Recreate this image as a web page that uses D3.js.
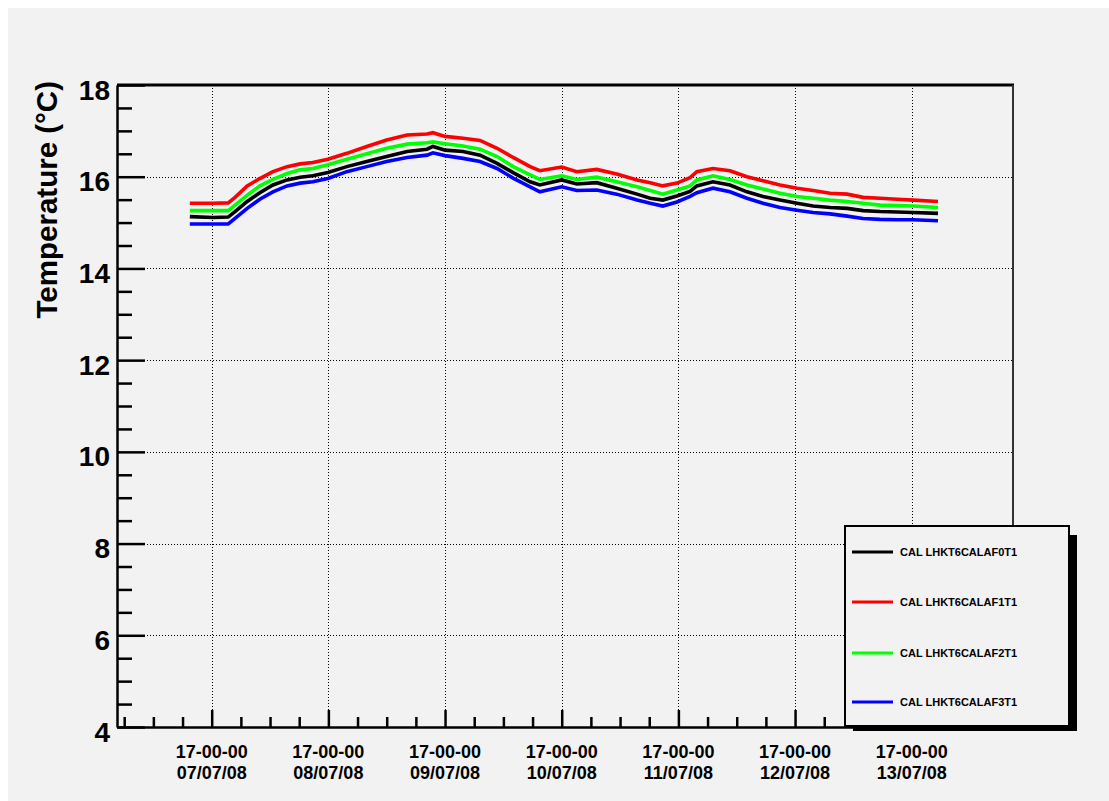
<!DOCTYPE html>
<html>
<head>
<meta charset="utf-8">
<script src="https://cdn.jsdelivr.net/npm/d3@7"></script>
<style>
  body { margin: 0; background: #fff; }
  text { font-family: "Liberation Sans", Arial, Helvetica, sans-serif; font-weight: bold; fill: #000; }
</style>
</head>
<body>
<svg id="chart" width="1109" height="801"></svg>
<script>
// sensor names and colours, as in the legend
var seriesNames = ['CAL LHKT6CALAF0T1', 'CAL LHKT6CALAF1T1', 'CAL LHKT6CALAF2T1', 'CAL LHKT6CALAF3T1'];
var seriesColors = ['#000000', '#ff0000', '#00ff00', '#0000ff'];

// sample times, hours after 07/07/08 17:00:00
var hours = [-4.5, 0.3, 3.4, 4.8, 7.3, 9.9, 12.6, 15.5, 18.2, 20.8, 23.9, 27.8, 31.9, 36.0, 40.2, 44.3,
  45.5, 48.0, 51.7, 55.2, 58.7, 62.0, 65.5, 67.5, 72.0, 75.1, 79.2, 83.3, 87.5, 90.2, 92.8, 95.7,
  98.4, 99.8, 103.1, 106.6, 110.1, 113.4, 116.9, 120.4, 123.7, 127.2, 130.7, 134.0, 137.5, 141.0, 144.3, 149.4];

// temperatures (degC)
var af0 = [15.13, 15.11, 15.12, 15.24, 15.46, 15.65, 15.82, 15.93, 15.99, 16.02, 16.09, 16.22, 16.33, 16.44, 16.55, 16.60,
  16.66, 16.58, 16.55, 16.47, 16.29, 16.09, 15.89, 15.82, 15.93, 15.84, 15.87, 15.75, 15.62, 15.53, 15.49, 15.58,
  15.68, 15.80, 15.89, 15.82, 15.67, 15.57, 15.49, 15.42, 15.36, 15.33, 15.31, 15.26, 15.24, 15.23, 15.22, 15.20];
var af1 = [15.42, 15.42, 15.43, 15.55, 15.80, 15.96, 16.11, 16.22, 16.28, 16.31, 16.38, 16.51, 16.66, 16.80, 16.91, 16.93,
  16.96, 16.88, 16.84, 16.79, 16.62, 16.42, 16.22, 16.13, 16.21, 16.11, 16.16, 16.06, 15.93, 15.87, 15.80, 15.86,
  15.98, 16.11, 16.18, 16.13, 16.00, 15.91, 15.82, 15.75, 15.70, 15.64, 15.62, 15.55, 15.53, 15.51, 15.49, 15.46];
var af2 = [15.26, 15.26, 15.26, 15.38, 15.60, 15.80, 15.94, 16.07, 16.15, 16.18, 16.26, 16.38, 16.50, 16.62, 16.71, 16.74,
  16.76, 16.72, 16.67, 16.60, 16.44, 16.22, 16.04, 15.94, 16.02, 15.94, 15.99, 15.89, 15.78, 15.70, 15.62, 15.71,
  15.80, 15.93, 16.02, 15.94, 15.82, 15.73, 15.64, 15.57, 15.53, 15.49, 15.46, 15.42, 15.38, 15.37, 15.36, 15.33];
var af3 = [14.97, 14.97, 14.97, 15.09, 15.31, 15.51, 15.67, 15.80, 15.86, 15.89, 15.96, 16.11, 16.22, 16.33, 16.42, 16.47,
  16.52, 16.46, 16.40, 16.33, 16.18, 15.97, 15.78, 15.67, 15.78, 15.70, 15.71, 15.62, 15.49, 15.42, 15.36, 15.45,
  15.57, 15.65, 15.75, 15.67, 15.53, 15.42, 15.33, 15.27, 15.22, 15.19, 15.14, 15.09, 15.07, 15.06, 15.06, 15.04];

var yMajor = [4, 6, 8, 10, 12, 14, 16, 18];
var dayTicks = [0, 24, 48, 72, 96, 120, 144];   // hours, one per day at 17:00

var base = Date.UTC(2008, 6, 7, 17, 0, 0);
var toDate = function(h) { return new Date(base + h * 3600e3); };

var margin = {left: 117, top: 85, right: 1013, bottom: 727};
var svg = d3.select('#chart');

// canvas
svg.append('rect').attr('x', 8).attr('y', 8).attr('width', 1101).attr('height', 793).attr('fill', '#f2f2f2');

var x = d3.scaleUtc()
    .domain([toDate(-19.48), toDate(164.83)])
    .range([margin.left, margin.right]);
var y = d3.scaleLinear()
    .domain([4, 18])
    .range([margin.bottom, margin.top]);

// dotted grid
var grid = svg.append('g')
    .attr('stroke', '#000')
    .attr('stroke-width', 1)
    .attr('stroke-dasharray', '1,2');
grid.selectAll('.gy')
    .data(yMajor.slice(1, -1))
    .join('line')
        .attr('x1', margin.left).attr('x2', margin.right)
        .attr('y1', function(d) { return Math.round(y(d)) + 0.5; })
        .attr('y2', function(d) { return Math.round(y(d)) + 0.5; });
grid.selectAll('.gx')
    .data(dayTicks)
    .join('line')
        .attr('y1', margin.top).attr('y2', margin.bottom)
        .attr('x1', function(d) { return Math.round(x(toDate(d))) + 0.5; })
        .attr('x2', function(d) { return Math.round(x(toDate(d))) + 0.5; });

// curves
svg.append('clipPath').attr('id', 'plotclip')
    .append('rect')
        .attr('x', margin.left).attr('y', margin.top)
        .attr('width', margin.right - margin.left).attr('height', margin.bottom - margin.top);

var allSeries = [af0, af1, af2, af3];
var line = d3.line()
    .x(function(d, i) { return x(toDate(hours[i])); })
    .y(function(d) { return y(d); });

svg.append('g').attr('clip-path', 'url(#plotclip)')
    .selectAll('path')
    .data(allSeries)
    .join('path')
        .attr('fill', 'none')
        .attr('stroke', function(d, i) { return seriesColors[i]; })
        .attr('stroke-width', 3.6)
        .attr('stroke-linejoin', 'miter')
        .attr('d', line);

// frame top and right
svg.append('line')
    .attr('x1', margin.left).attr('x2', margin.right + 1)
    .attr('y1', margin.top).attr('y2', margin.top)
    .attr('stroke', '#000').attr('stroke-width', 3);
svg.append('line')
    .attr('x1', margin.right).attr('x2', margin.right)
    .attr('y1', margin.top).attr('y2', margin.bottom)
    .attr('stroke', '#333').attr('stroke-width', 2);

// y axis: minor ticks then major ticks with labels
var yMinor = d3.range(4, 18.01, 0.5).filter(function(v) { return v % 2 !== 0; });
svg.append('g')
    .attr('transform', 'translate(' + margin.left + ',0)')
    .call(d3.axisLeft(y).tickValues(yMinor).tickSizeInner(-15).tickSizeOuter(0).tickFormat(''))
    .call(function(g) { g.select('.domain').remove(); })
    .selectAll('line').attr('stroke-width', 2.5);

var yAxis = svg.append('g')
    .attr('transform', 'translate(' + margin.left + ',0)')
    .call(d3.axisLeft(y).tickValues(yMajor).tickSizeInner(-28).tickSizeOuter(0).tickPadding(7).tickFormat(d3.format('d')));
yAxis.select('.domain').attr('stroke-width', 2.5);
yAxis.selectAll('line').attr('stroke-width', 2.5);
yAxis.selectAll('text')
    .attr('font-size', 28)
    .attr('dy', '0.5em');

// x axis: 6-hour minor ticks, daily major ticks
var xMinor = d3.range(-18, 165, 6).filter(function(h) { return dayTicks.indexOf(h) < 0; });
svg.append('g')
    .attr('transform', 'translate(0,' + margin.bottom + ')')
    .call(d3.axisBottom(x).tickValues(xMinor.map(toDate)).tickSizeInner(-10).tickSizeOuter(0).tickFormat(''))
    .call(function(g) { g.select('.domain').remove(); })
    .selectAll('line').attr('stroke-width', 2.5);

var xAxis = svg.append('g')
    .attr('transform', 'translate(0,' + margin.bottom + ')')
    .call(d3.axisBottom(x).tickValues(dayTicks.map(toDate)).tickSizeInner(-17).tickSizeOuter(0).tickFormat(''));
xAxis.select('.domain').attr('stroke-width', 2.5);
xAxis.selectAll('line').attr('stroke-width', 2.5);

var fmtTime = d3.utcFormat('%H-%M-%S');
var fmtDay = d3.utcFormat('%d/%m/%y');
var xLabels = svg.append('g')
    .selectAll('text')
    .data(dayTicks.map(toDate))
    .join('text')
        .attr('text-anchor', 'middle')
        .attr('font-size', 18);
xLabels.append('tspan')
    .attr('x', function(d) { return x(d); })
    .attr('y', 758)
    .text(fmtTime);
xLabels.append('tspan')
    .attr('x', function(d) { return x(d); })
    .attr('y', 779)
    .text(fmtDay);

// y title
svg.append('text')
    .attr('transform', 'translate(57,' + (margin.top - 4) + ') rotate(-90)')
    .attr('text-anchor', 'end')
    .attr('font-size', 29.5)
    .text('Temperature (\u00B0C)');

// legend with drop shadow
var lg = {x: 845, y: 526, w: 224, h: 200};
svg.append('rect')
    .attr('x', lg.x + 8).attr('y', lg.y + 9)
    .attr('width', lg.w).attr('height', lg.h - 4)
    .attr('fill', '#000');
svg.append('rect')
    .attr('x', lg.x).attr('y', lg.y)
    .attr('width', lg.w).attr('height', lg.h)
    .attr('fill', '#f2f2f2')
    .attr('stroke', '#000')
    .attr('stroke-width', 2);

var entryY = [552, 602, 653, 702];
var entries = svg.append('g')
    .selectAll('g')
    .data(seriesNames)
    .join('g')
        .attr('transform', function(d, i) { return 'translate(0,' + entryY[i] + ')'; });
entries.append('line')
    .attr('x1', 852).attr('x2', 893)
    .attr('stroke', function(d, i) { return seriesColors[i]; })
    .attr('stroke-width', 3);
entries.append('text')
    .attr('x', 900)
    .attr('dy', '0.36em')
    .attr('font-size', 11)
    .text(function(d) { return d; });
</script>
</body>
</html>
